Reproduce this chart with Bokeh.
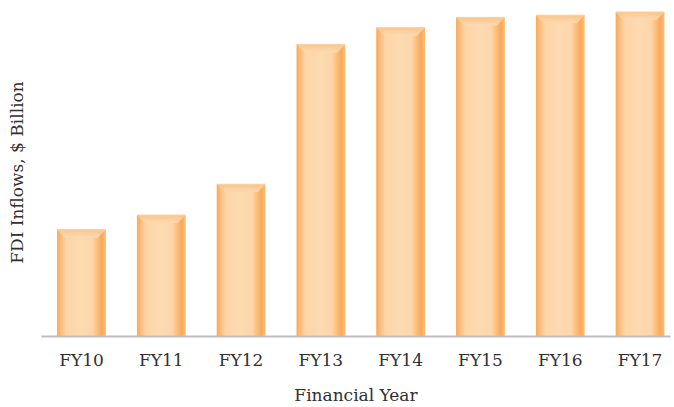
import numpy as np
from bokeh.plotting import figure
from bokeh.models import Range1d, FixedTicker, ColumnDataSource
from bokeh.embed import file_html
from bokeh.resources import INLINE

# ---- data ----
years = ["FY10", "FY11", "FY12", "FY13", "FY14", "FY15", "FY16", "FY17"]
fdi_inflows = [19.8, 22.5, 28.2, 54.1, 57.2, 59.1, 59.5, 60.1]

x_label = "Financial Year"
y_label = "FDI Inflows, $ Billion"

# ---- style ----
FONT = "DejaVu Serif"
TEXT = "#303030"
BAR_W = 0.61
N_STRIPS = 40

# horizontal colour profile across a bar (simulated gradient)
prof_t = [0.0, 0.04, 0.2, 0.5, 0.74, 0.87, 0.94, 1.0]
prof_c = [(249, 166, 84), (250, 176, 100), (253, 213, 168), (253, 218, 178),
          (253, 214, 170), (250, 184, 112), (249, 168, 88), (251, 188, 120)]


def prof_color(t):
    arr = np.array(prof_c, dtype=float)
    rgb = [np.interp(t, prof_t, arr[:, k]) for k in range(3)]
    return "#%02x%02x%02x" % tuple(int(round(v)) for v in rgb)


idx = np.arange(len(years))
vals = np.array(fdi_inflows)

p = figure(frame_width=629, frame_height=328,
           x_range=Range1d(-0.501, 7.382), y_range=Range1d(0, 60.74),
           output_backend="svg", toolbar_location=None,
           min_border_left=41, min_border_right=4, min_border_top=8,
           min_border_bottom=0)

p.outline_line_color = None
p.xgrid.visible = False
p.ygrid.visible = False
p.background_fill_color = "white"
p.border_fill_color = "white"

# gradient strips (overlapping so no seams show)
sw = BAR_W / N_STRIPS
for k in range(N_STRIPS):
    t = (k + 0.5) / N_STRIPS
    w = sw * 2.2
    xc = idx - BAR_W / 2 + BAR_W * t
    lo = np.maximum(xc - w / 2, idx - BAR_W / 2)
    hi = np.minimum(xc + w / 2, idx + BAR_W / 2)
    src = ColumnDataSource(dict(left=lo, right=hi, top=vals))
    p.quad(left="left", right="right", top="top", bottom=0, source=src,
           fill_color=prof_color(t), line_color=None)

# top bevel: bands of trapezoids fading into bar colour
n_band = 6
bev_h = 1.45      # data units
bev_in = 0.1      # data units
c_top = np.array([252, 198, 140], dtype=float)
c_mid = np.array([253, 216, 174], dtype=float)
for j in range(n_band):
    f0 = j / n_band
    f1 = (j + 1) / n_band
    c = c_top + (c_mid - c_top) * (j / (n_band - 1))
    col = "#%02x%02x%02x" % tuple(int(round(v)) for v in c)
    xs, ys = [], []
    for xi, v in zip(idx, vals):
        l0 = xi - BAR_W / 2 + bev_in * f0
        r0 = xi + BAR_W / 2 - bev_in * f0
        l1 = xi - BAR_W / 2 + bev_in * f1
        r1 = xi + BAR_W / 2 - bev_in * f1
        y0 = v - bev_h * f0
        y1 = v - bev_h * f1 - 0.05
        xs.append([l0, r0, r1, l1])
        ys.append([y0, y0, y1, y1])
    p.patches(xs=xs, ys=ys, fill_color=col, line_color=None)

# thin light rim at the top of each bar
p.segment(x0=idx - BAR_W / 2, x1=idx + BAR_W / 2, y0=vals, y1=vals,
          line_color="#FDD3A6", line_width=1)

# axes
xa = p.xaxis[0]
xa.ticker = FixedTicker(ticks=list(idx))
xa.major_label_overrides = {int(i): y for i, y in zip(idx, years)}
xa.axis_line_color = "#BFBFBF"
xa.axis_line_width = 2
xa.major_tick_line_color = None
xa.minor_tick_line_color = None
xa.major_tick_out = 0
xa.major_tick_in = 0
xa.major_label_standoff = 13
xa.major_label_text_font = FONT
xa.major_label_text_font_size = "17px"
xa.major_label_text_color = TEXT
xa.axis_label = x_label
xa.axis_label_text_font = FONT
xa.axis_label_text_font_size = "17px"
xa.axis_label_text_font_style = "normal"
xa.axis_label_text_color = TEXT
xa.axis_label_standoff = 12

ya = p.yaxis[0]
ya.ticker = FixedTicker(ticks=[])
ya.axis_line_color = None
ya.major_tick_line_color = None
ya.minor_tick_line_color = None
ya.major_tick_out = 0
ya.major_tick_in = 0
ya.major_label_standoff = 0
ya.axis_label = y_label
ya.axis_label_text_font = FONT
ya.axis_label_text_font_size = "17px"
ya.axis_label_text_font_style = "normal"
ya.axis_label_text_color = TEXT
ya.axis_label_standoff = 15

open("out.html", "w").write(file_html(p, INLINE))
